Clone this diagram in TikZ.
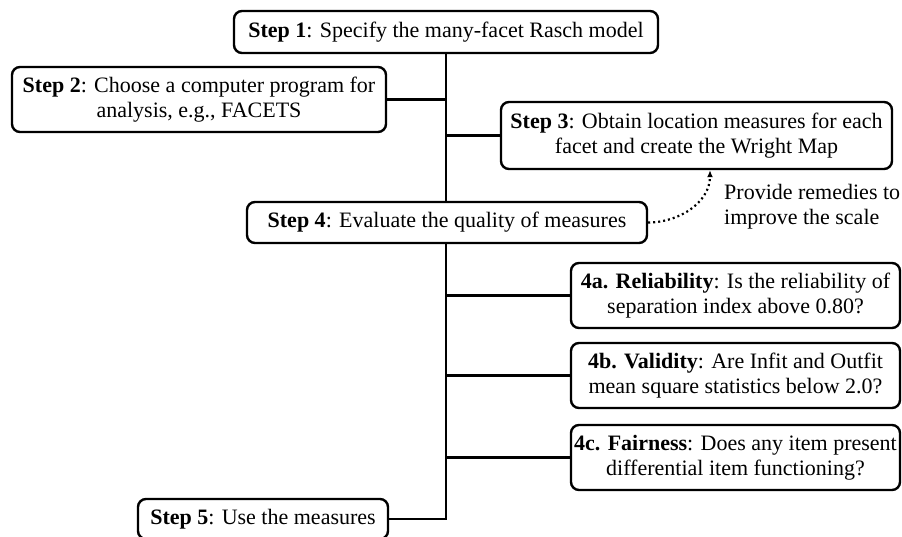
\documentclass[tikz,border=0pt]{standalone}
\usepackage{fontspec}
\setmainfont{Liberation Serif}
\usetikzlibrary{arrows.meta}
\begin{document}
\begin{tikzpicture}[x=1pt,y=-1pt,
  box/.style={draw, line width=2.4pt, rounded corners=8pt, align=center,
    inner sep=0pt, font=\fontsize{22}{25}\selectfont},
  link/.style={line width=2.4pt},
  remedy/.style={line width=2.2pt, dash pattern=on 2pt off 3pt,
    -{Latex[length=7pt,width=6pt]}}]
\clip (0,0) rectangle (902,537);
\fill[white] (0,0) rectangle (902,537);

\node[box, minimum width=424pt, minimum height=42pt] (s1) at (446,32)
  {\textbf{Step 1}: Specify the many-facet Rasch model};
\node[box, minimum width=374pt, minimum height=65pt] (s2) at (199,99.5)
  {\textbf{Step 2}: Choose a computer program for\\analysis, e.g., FACETS};
\node[box, minimum width=391pt, minimum height=67pt] (s3) at (696.5,135.5)
  {\textbf{Step 3}: Obtain location measures for each\\facet and create the Wright Map};
\node[box, minimum width=400pt, minimum height=41pt] (s4) at (447,222.5)
  {\textbf{Step 4}: Evaluate the quality of measures};
\node[box, minimum width=329pt, minimum height=65pt] (s4a) at (735.5,295.5)
  {\textbf{4a. Reliability}: Is the reliability of\\separation index above 0.80?};
\node[box, minimum width=329pt, minimum height=65pt] (s4b) at (735.5,375.5)
  {\textbf{4b. Validity}: Are Infit and Outfit\\mean square statistics below 2.0?};
\node[box, minimum width=329pt, minimum height=65pt] (s4c) at (735.5,457.5)
  {\textbf{4c. Fairness}: Does any item present\\differential item functioning?};
\node[box, minimum width=250pt, minimum height=40pt] (s5) at (263,519)
  {\textbf{Step 5}: Use the measures};

\node[align=left, anchor=west, inner sep=0pt,
  font=\fontsize{22}{25}\selectfont] (fix) at (724,207)
  {Provide remedies to\\improve the scale};

% main spine: Step 1 to Step 4, then Step 4 down to Step 5
\coordinate (spine) at (446,0);
\draw[link] (s1.south -| spine) -- (s4.north -| spine);
\draw[link] (s4.south -| spine) |- (s5.east);
% branches off the spine
\draw[link] (s2.east) -- (s2.east -| spine);
\draw[link] (s3.west) -- (s3.west -| spine);
\draw[link] (s4a.west) -- (s4a.west -| spine);
\draw[link] (s4b.west) -- (s4b.west -| spine);
\draw[link] (s4c.west) -- (s4c.west -| spine);

% feedback loop from Step 4 back to Step 3
\coordinate (back) at (710,0);
\draw[remedy] (s4.east) to[out=0,in=-90] (s3.south -| back);
\end{tikzpicture}
\end{document}
